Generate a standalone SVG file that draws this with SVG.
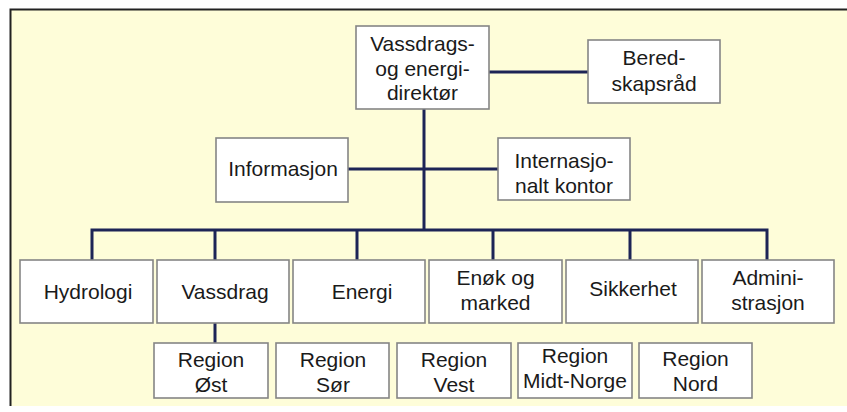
<svg xmlns="http://www.w3.org/2000/svg" width="847" height="412" viewBox="0 0 847 412">
<style>
.box{fill:#ffffff;stroke:#858585;stroke-width:1.6}
.t{font-family:"Liberation Sans",Arial,sans-serif;font-size:21px;fill:#1a1a1a;text-anchor:middle}
.c{fill:none;stroke:#1d2456;stroke-width:3}
</style>
<rect x="0" y="0" width="847" height="412" fill="#ffffff"/>
<rect x="10" y="10" width="837" height="396" fill="#fefdd9"/>
<path d="M10.5,406 V9.5 H847" fill="none" stroke="#222222" stroke-width="2"/>
<g id="connectors">
<path class="c" d="M489,72 H588"/>
<path class="c" d="M424,109 V230"/>
<path class="c" d="M348,169 H498"/>
<path class="c" d="M92,260 V230 H767 V260"/>
<path class="c" d="M215,230 V260"/>
<path class="c" d="M357,230 V260"/>
<path class="c" d="M493,230 V260"/>
<path class="c" d="M630,230 V260"/>
<path class="c" d="M215,323 V343"/>
</g>
<g id="direktor"><rect class="box" x="356" y="26" width="133" height="83"/><text class="t" x="422.5" y="51">Vassdrags-</text><text class="t" x="422.5" y="76">og energi-</text><text class="t" x="422.5" y="100">direktør</text></g>
<g id="beredskapsrad"><rect class="box" x="588" y="40" width="132" height="63"/><text class="t" x="654" y="65">Bered-</text><text class="t" x="654" y="91">skapsråd</text></g>
<g id="informasjon"><rect class="box" x="216" y="138" width="132" height="64"/><text class="t" x="283" y="176">Informasjon</text></g>
<g id="internasjonalt"><rect class="box" x="498" y="138" width="132" height="62"/><text class="t" x="564" y="168">Internasjo-</text><text class="t" x="564" y="193">nalt kontor</text></g>
<g id="hydrologi"><rect class="box" x="20" y="260" width="133" height="63"/><text class="t" x="88" y="299">Hydrologi</text></g>
<g id="vassdrag"><rect class="box" x="157" y="260" width="132" height="63"/><text class="t" x="225" y="299">Vassdrag</text></g>
<g id="energi"><rect class="box" x="293" y="260" width="132" height="63"/><text class="t" x="362" y="299">Energi</text></g>
<g id="enok"><rect class="box" x="429" y="260" width="133" height="63"/><text class="t" x="495.5" y="285">Enøk og</text><text class="t" x="495.5" y="310">marked</text></g>
<g id="sikkerhet"><rect class="box" x="566" y="260" width="132" height="63"/><text class="t" x="633" y="296">Sikkerhet</text></g>
<g id="administrasjon"><rect class="box" x="702" y="260" width="132" height="63"/><text class="t" x="768" y="285">Admini-</text><text class="t" x="768" y="310">strasjon</text></g>
<g id="region-ost"><rect class="box" x="154" y="343" width="114" height="55"/><text class="t" x="211" y="367">Region</text><text class="t" x="211" y="392">Øst</text></g>
<g id="region-sor"><rect class="box" x="276" y="343" width="113" height="55"/><text class="t" x="333" y="367">Region</text><text class="t" x="333" y="392">Sør</text></g>
<g id="region-vest"><rect class="box" x="397" y="343" width="114" height="55"/><text class="t" x="454" y="367">Region</text><text class="t" x="454" y="392">Vest</text></g>
<g id="region-midt-norge"><rect class="box" x="518" y="343" width="114" height="55"/><text class="t" x="575" y="363">Region</text><text class="t" x="575" y="388">Midt-Norge</text></g>
<g id="region-nord"><rect class="box" x="639" y="343" width="113" height="55"/><text class="t" x="695.5" y="366">Region</text><text class="t" x="695.5" y="391">Nord</text></g>
</svg>
